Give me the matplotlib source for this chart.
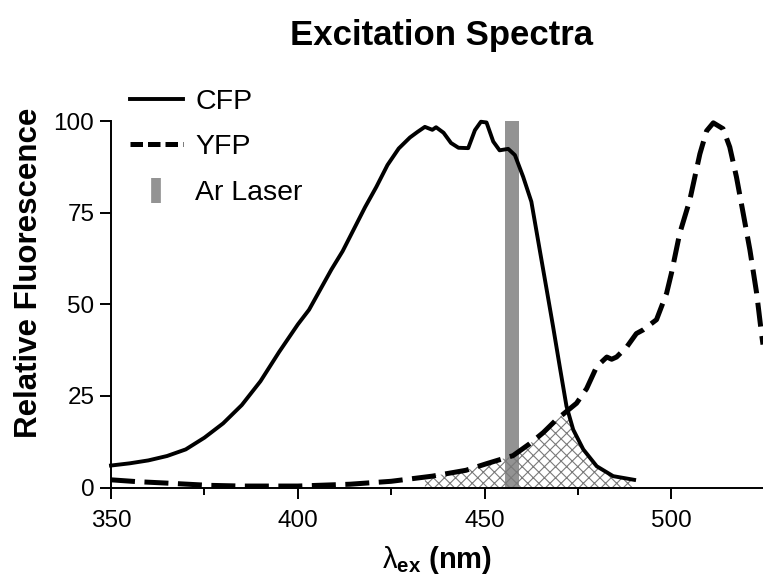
import numpy as np
import matplotlib
matplotlib.use("Agg")
import matplotlib.pyplot as plt
from matplotlib.lines import Line2D

plt.rcParams['font.family'] = ['Liberation Sans', 'DejaVu Sans']
plt.rcParams['mathtext.fontset'] = 'custom'
plt.rcParams['mathtext.rm'] = 'Liberation Sans'
plt.rcParams['mathtext.bf'] = 'Liberation Sans:bold'
plt.rcParams['mathtext.it'] = 'Liberation Sans:italic'
plt.rcParams['hatch.linewidth'] = 0.8

# CFP excitation spectrum (nm, relative fluorescence)
cfp_nm = [350, 355, 360, 365, 370, 375, 380, 385, 390, 395, 400, 403, 406, 409,
          412, 415, 418, 421, 424, 427, 430, 432, 434, 436, 437, 439, 441, 443,
          445.6, 447.4, 449, 450.5, 452.3, 454, 456.3, 458.1, 460.3, 462.5,
          464.8, 466.6, 468.3, 470.1, 471.9, 473.7, 476.4, 480, 484.4, 490]
cfp_val = [6.0, 6.6, 7.4, 8.6, 10.4, 13.6, 17.5, 22.5, 29, 37, 44.5, 48.5, 54,
           59.5, 64.5, 70.5, 76.5, 82, 88, 92.5, 95.5, 97, 98.4, 97.6, 98.3,
           96.8, 94, 92.7, 92.6, 97.5, 99.8, 99.6, 94.4, 92, 92.4, 90.7, 84.8,
           78, 64.5, 54, 44, 33, 22.2, 15.8, 10.4, 5.8, 3.1, 2.1]

# YFP excitation spectrum
yfp_nm = [350, 357, 365, 376, 385, 400, 414, 425, 436, 445, 450.5, 457.6, 462,
          465.7, 469.3, 471, 474.6, 477.3, 480, 482.7, 484, 485.3, 488, 490.6,
          492.4, 496, 498.7, 500, 502.2, 504.9, 507.6, 509.4, 511.2, 513.8,
          515.6, 517.4, 519.2, 521, 522.8, 524.1, 524.5]
yfp_val = [2.1, 1.6, 1.2, 0.6, 0.4, 0.4, 0.9, 1.7, 3.1, 4.7, 6.5, 8.7, 11.9,
           15, 18.6, 20, 23, 27, 33, 35.6, 35, 35.6, 38.3, 42, 43, 45.8, 53,
           58.5, 69.3, 78.4, 91, 97.3, 99.5, 97.9, 92.9, 84.7, 74.8, 64.8, 53,
           42, 39]

# Ar laser line
laser_nm = 457.4
laser_width = 3.8
laser_height = 100

# overlap region (hatched)
overlap_start, overlap_end = 434, 490

fig = plt.figure(figsize=(7.63, 5.79), dpi=100)
ax = fig.add_axes([0.1455, 0.158, 0.8545, 0.633])

ax.bar(laser_nm, laser_height, width=laser_width, color='#939393', zorder=1)

grid = np.linspace(overlap_start, overlap_end, 300)
low = np.minimum(np.interp(grid, cfp_nm, cfp_val), np.interp(grid, yfp_nm, yfp_val))
ax.fill_between(grid, 0, low, facecolor='none', edgecolor='#7a7a7a',
                hatch='xxx', linewidth=0, zorder=2)

ax.plot(cfp_nm, cfp_val, color='black', lw=2.8, zorder=3, clip_on=False)
ax.plot(yfp_nm, yfp_val, color='black', lw=3.6, dashes=(4.8, 1.9), zorder=3,
        clip_on=False)

ax.set_xlim(350, 524.5)
ax.set_ylim(0, 100)
ax.set_xticks([350, 400, 450, 500])
ax.set_xticks([375, 425, 475], minor=True)
ax.set_yticks([0, 25, 50, 75, 100])
ax.spines['top'].set_visible(False)
ax.spines['right'].set_visible(False)
for s in ['left', 'bottom']:
    ax.spines[s].set_linewidth(1.4)
ax.tick_params(axis='both', which='major', direction='out', length=8, width=1.4,
               labelsize=17.5)
ax.tick_params(axis='x', which='major', pad=8)
ax.tick_params(axis='y', which='major', pad=4)
ax.tick_params(axis='x', which='minor', direction='out', length=5, width=1.4)

ax.set_ylabel('Relative Fluorescence', fontsize=22.5, fontweight='bold')
ax.yaxis.set_label_coords(-0.103, 0.587)
ax.set_xlabel(r'$\mathrm{\lambda}_{\mathbf{ex}}$ (nm)', fontsize=21,
              fontweight='bold', labelpad=9)
fig.text(441 / 763, 1 - 35 / 579, 'Excitation Spectra', fontsize=25,
         fontweight='bold', ha='center', va='center')

handles = [Line2D([], [], color='black', lw=2.8),
           Line2D([], [], color='black', lw=3.6, dashes=(2.5, 1.0)),
           Line2D([], [], ls='none', marker='|', markersize=18,
                  markeredgewidth=7, color='#939393')]
ax.legend(handles, ['CFP', 'YFP', 'Ar Laser'], loc='upper left',
          bbox_to_anchor=(130 / 763, 1 - 89 / 579), bbox_transform=fig.transFigure,
          frameon=False, fontsize=20.5, handlelength=1.85, handletextpad=0.45,
          labelspacing=0.68, borderpad=0, borderaxespad=0)

fig.savefig('out.png', dpi=100)
